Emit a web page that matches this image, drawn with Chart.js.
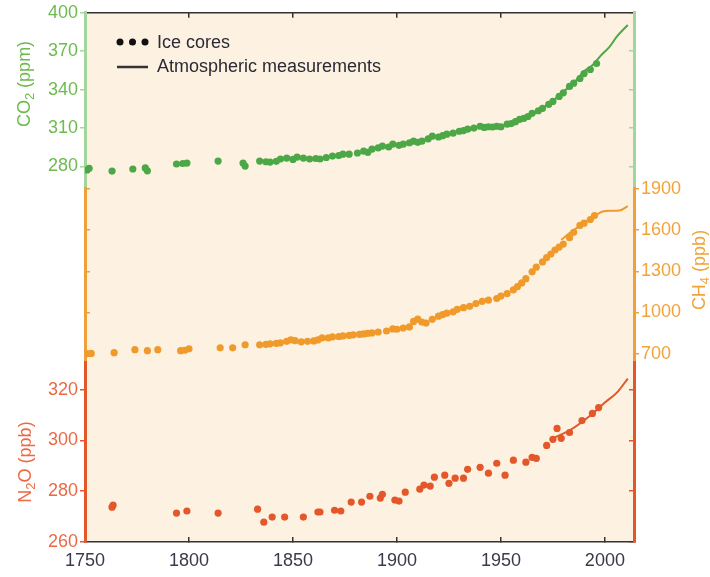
<!DOCTYPE html>
<html>
<head>
<meta charset="utf-8">
<script src="https://cdn.jsdelivr.net/npm/chart.js@4.4.1/dist/chart.umd.min.js"></script>
<style>
  html, body { margin: 0; padding: 0; background: #ffffff; }
</style>
</head>
<body>
<canvas id="chart" width="710" height="577"></canvas>
<script>
// Greenhouse gas concentrations 1750-2011
const FONT = "'Liberation Sans', Arial, sans-serif";

const yearTicks = [1750, 1800, 1850, 1900, 1950, 2000];
const co2Ticks = [280, 310, 340, 370, 400];
const ch4Ticks = [700, 1000, 1300, 1600, 1900];
const n2oTicks = [260, 280, 300, 320];

// CO2 (ppm)
const co2IceYears = [1751, 1752, 1763, 1773, 1779, 1780, 1794, 1797, 1799, 1814, 1826, 1827, 1834, 1837, 1839, 1842,
  1844, 1847, 1850, 1852, 1855, 1858, 1861, 1863, 1866, 1869, 1872, 1874, 1877, 1881, 1884, 1886, 1888, 1891, 1893,
  1896, 1898, 1901, 1903, 1906, 1908, 1910, 1912, 1915, 1917, 1920, 1922, 1924, 1927, 1930, 1932, 1934, 1937, 1940,
  1942, 1944, 1946, 1948, 1950, 1953, 1955, 1957, 1959, 1961, 1963, 1965, 1968, 1970, 1973, 1975, 1978, 1980, 1983,
  1985, 1988, 1990, 1993, 1996];
const co2IceValues = [277.2, 278.5, 276.4, 278, 278.8, 276.6, 281.9, 282.3, 282.6, 284.2, 282.6, 280.3, 284.2, 283.6,
  283.4, 284, 285.8, 286.5, 285.5, 287.3, 286.5, 285.8, 286.2, 285.8, 287, 288.1, 288.5, 289.6, 289.6, 290.5, 292, 291,
  293.5, 294.5, 295.9, 295.2, 297.4, 296.5, 297.4, 298.5, 299.7, 298.8, 299.7, 301.5, 303.6, 303, 304, 305.2, 306,
  307.5, 308, 309.1, 310, 311.4, 310.5, 311, 310.8, 311.4, 311, 313, 313.5, 315, 316.8, 317.5, 319, 321.5, 323.5,
  325.4, 328.5, 330.8, 334.7, 337.5, 342.5, 345, 348.7, 352.5, 355.7, 360.4];
const co2AtmYears = [1958, 1962, 1966, 1970, 1974, 1978, 1982, 1986, 1990, 1994, 1998, 2002, 2006, 2011];
const co2AtmValues = [315.5, 318.5, 321.2, 325.5, 330, 335.4, 341, 347, 354.4, 359, 366.6, 373, 381.9, 390.5];

// CH4 (ppb)
const ch4IceYears = [1751, 1753, 1764, 1774, 1780, 1785, 1796, 1798, 1800, 1815, 1821, 1827, 1834, 1837, 1839, 1842,
  1844, 1847, 1849, 1851, 1854, 1857, 1860, 1862, 1864, 1867, 1869, 1872, 1874, 1877, 1879, 1882, 1884, 1886, 1888,
  1891, 1895, 1898, 1900, 1903, 1906, 1908, 1910, 1912, 1914, 1917, 1920, 1922, 1924, 1927, 1929, 1932, 1935, 1938,
  1941, 1944, 1948, 1950, 1953, 1956, 1958, 1960, 1962, 1965, 1967, 1970, 1972, 1974, 1976, 1978, 1980, 1983, 1985,
  1988, 1990, 1993, 1995];
const ch4IceValues = [700, 702, 707, 729, 722, 729, 722, 725, 736, 743, 743, 765, 765, 768, 772, 775, 779, 790, 801,
  795, 786, 790, 793, 800, 815, 815, 822, 825, 829, 833, 837, 840, 844, 848, 851, 858, 865, 880, 878, 887, 895, 935,
  951, 930, 923, 950, 973, 985, 995, 1005, 1023, 1035, 1045, 1065, 1081, 1090, 1102, 1120, 1138, 1165, 1189, 1215,
  1246, 1296, 1330, 1368, 1400, 1426, 1455, 1476, 1498, 1545, 1584, 1634, 1650, 1677, 1706];
const ch4AtmYears = [1979, 1985, 1993, 1999, 2003, 2007, 2011];
const ch4AtmValues = [1530, 1600, 1680, 1735, 1740, 1742, 1774];

// N2O (ppb)
const n2oIceYears = [1763, 1763.5, 1794, 1799, 1814, 1833, 1836, 1840, 1846, 1855, 1862, 1863, 1870, 1873, 1878,
  1883, 1887, 1892, 1893, 1899, 1901, 1904, 1911, 1913, 1916, 1918, 1923, 1925, 1928, 1932, 1934, 1940, 1944, 1948,
  1952, 1956, 1962, 1965, 1967, 1972, 1975, 1977, 1979, 1983, 1989, 1994, 1997];
const n2oIceValues = [273.7, 274.5, 271.4, 272.2, 271.4, 272.9, 267.8, 269.8, 269.8, 269.8, 271.8, 271.8, 272.5,
  272.2, 275.7, 275.7, 278, 277.3, 278.8, 276.5, 276.1, 279.6, 280.8, 282.4, 282, 285.5, 286.3, 283.1, 285.1, 285.1,
  288.6, 289.4, 287.1, 291, 286.3, 292.2, 291.4, 293.3, 292.9, 298, 300.4, 304.7, 300.8, 303.1, 307.8, 310.6, 312.9];
const n2oAtmYears = [1976, 1983, 1993, 2000, 2006, 2011];
const n2oAtmValues = [301.2, 303.9, 309.8, 314.9, 319, 324.3];

const green = { text: '#6dbb4f', mark: '#4ca846', axis: '#a3d69d' };
const orange = { text: '#f2a33a', mark: '#ef9a2b', axis: '#f0a03a' };
const red = { text: '#eb6a45', mark: '#e4572a', axis: '#e4572a' };

function toPoints(xs, ys) {
    return xs.map((x, i) => ({ x: x, y: ys[i] }));
}

function iceSet(xs, ys, col, axisId) {
    return {
        data: toPoints(xs, ys), yAxisID: axisId, showLine: false,
        pointRadius: 3.6, pointBorderWidth: 0, backgroundColor: col.mark, order: 1
    };
}

function atmSet(xs, ys, col, axisId) {
    return {
        data: toPoints(xs, ys), yAxisID: axisId, showLine: true, pointRadius: 0,
        borderColor: col.mark, borderWidth: 2, cubicInterpolationMode: 'monotone', order: 2
    };
}

function sideAxis(pos, stackWeight, weight, min, max, tickVals, col, labels) {
    return {
        type: 'linear', position: pos, stack: pos, stackWeight: stackWeight, weight: weight,
        min: min, max: max,
        afterBuildTicks: s => { s.ticks = tickVals.map(v => ({ value: v })); },
        afterFit: s => { s.width = pos === 'left' ? 85 : 76; },
        border: { display: true, color: col.axis, width: 3 },
        grid: { drawOnChartArea: false, color: col.axis, lineWidth: 1.5, tickLength: labels ? 5 : -5 },
        ticks: { display: labels, color: col.text, font: { family: FONT, size: 18 }, padding: 2,
            autoSkip: false, callback: v => String(v) }
    };
}

function xAxis(pos, labels) {
    return {
        type: 'linear', position: pos, min: 1750, max: 2014,
        afterBuildTicks: s => { s.ticks = yearTicks.map(v => ({ value: v })); },
        afterFit: s => { s.height = pos === 'bottom' ? 35 : 11; },
        border: { display: true, color: '#333333', width: 1.5 },
        grid: { drawOnChartArea: false, color: '#333333', lineWidth: 1.5, tickLength: -5 },
        ticks: { display: labels, color: '#3a3a48', font: { family: FONT, size: 18 }, padding: 13,
            autoSkip: false, maxRotation: 0, callback: v => String(v) }
    };
}

const bgPlugin = {
    id: 'bg',
    beforeDraw(chart) {
        const { ctx, chartArea: a } = chart;
        ctx.save();
        ctx.fillStyle = '#fdf2e1';
        ctx.fillRect(a.left, a.top, a.right - a.left, a.bottom - a.top);
        ctx.restore();
    }
};

// rotated axis titles with a subscript, reading bottom to top
function drawTitle(ctx, x, y, parts, color) {
    ctx.save();
    ctx.translate(x, y);
    ctx.rotate(-Math.PI / 2);
    ctx.fillStyle = color;
    ctx.textBaseline = 'middle';
    let total = 0;
    parts.forEach(p => {
        ctx.font = (p.sub ? 13 : 18) + 'px ' + FONT;
        total += ctx.measureText(p.t).width;
    });
    let cx = -total / 2;
    parts.forEach(p => {
        ctx.font = (p.sub ? 13 : 18) + 'px ' + FONT;
        ctx.fillText(p.t, cx, p.sub ? 5 : 0);
        cx += ctx.measureText(p.t).width;
    });
    ctx.restore();
}

const labelPlugin = {
    id: 'labels',
    afterDraw(chart) {
        const ctx = chart.ctx;
        drawTitle(ctx, 25, 84, [{ t: 'CO' }, { t: '2', sub: true }, { t: ' (ppm)' }], green.text);
        drawTitle(ctx, 700, 270, [{ t: 'CH' }, { t: '4', sub: true }, { t: ' (ppb)' }], orange.text);
        drawTitle(ctx, 26, 462, [{ t: 'N' }, { t: '2', sub: true }, { t: 'O (ppb)' }], red.text);

        // legend
        ctx.save();
        ctx.fillStyle = '#111111';
        [120, 132.5, 145].forEach(x => {
            ctx.beginPath();
            ctx.arc(x, 42, 3.5, 0, Math.PI * 2);
            ctx.fill();
        });
        ctx.strokeStyle = '#333333';
        ctx.lineWidth = 2.5;
        ctx.beginPath();
        ctx.moveTo(117, 67);
        ctx.lineTo(148, 67);
        ctx.stroke();
        ctx.fillStyle = '#2a2a35';
        ctx.font = '18px ' + FONT;
        ctx.textBaseline = 'middle';
        ctx.fillText('Ice cores', 157, 43);
        ctx.fillText('Atmospheric measurements', 157, 67);
        ctx.restore();
    }
};

new Chart(document.getElementById('chart'), {
    type: 'scatter',
    data: {
        datasets: [
            atmSet(co2AtmYears, co2AtmValues, green, 'yCO2'),
            iceSet(co2IceYears, co2IceValues, green, 'yCO2'),
            atmSet(ch4AtmYears, ch4AtmValues, orange, 'yCH4'),
            iceSet(ch4IceYears, ch4IceValues, orange, 'yCH4'),
            atmSet(n2oAtmYears, n2oAtmValues, red, 'yN2O'),
            iceSet(n2oIceYears, n2oIceValues, red, 'yN2O')
        ]
    },
    options: {
        responsive: false,
        animation: false,
        layout: { padding: 0 },
        plugins: { legend: { display: false }, tooltip: { enabled: false } },
        scales: {
            x: xAxis('bottom', true),
            x2: xAxis('top', false),
            yCO2: sideAxis('left', 176, 3, 263, 400, co2Ticks, green, true),
            yCH4L: sideAxis('left', 175, 2, 635, 1905, ch4Ticks, orange, false),
            yN2O: sideAxis('left', 180, 1, 260, 330.6, n2oTicks, red, true),
            yCO2R: sideAxis('right', 176, 1, 263, 400, co2Ticks, green, false),
            yCH4: sideAxis('right', 175, 2, 635, 1905, ch4Ticks, orange, true),
            yN2OR: sideAxis('right', 180, 3, 260, 330.6, n2oTicks, red, false)
        }
    },
    plugins: [bgPlugin, labelPlugin]
});
</script>
</body>
</html>
